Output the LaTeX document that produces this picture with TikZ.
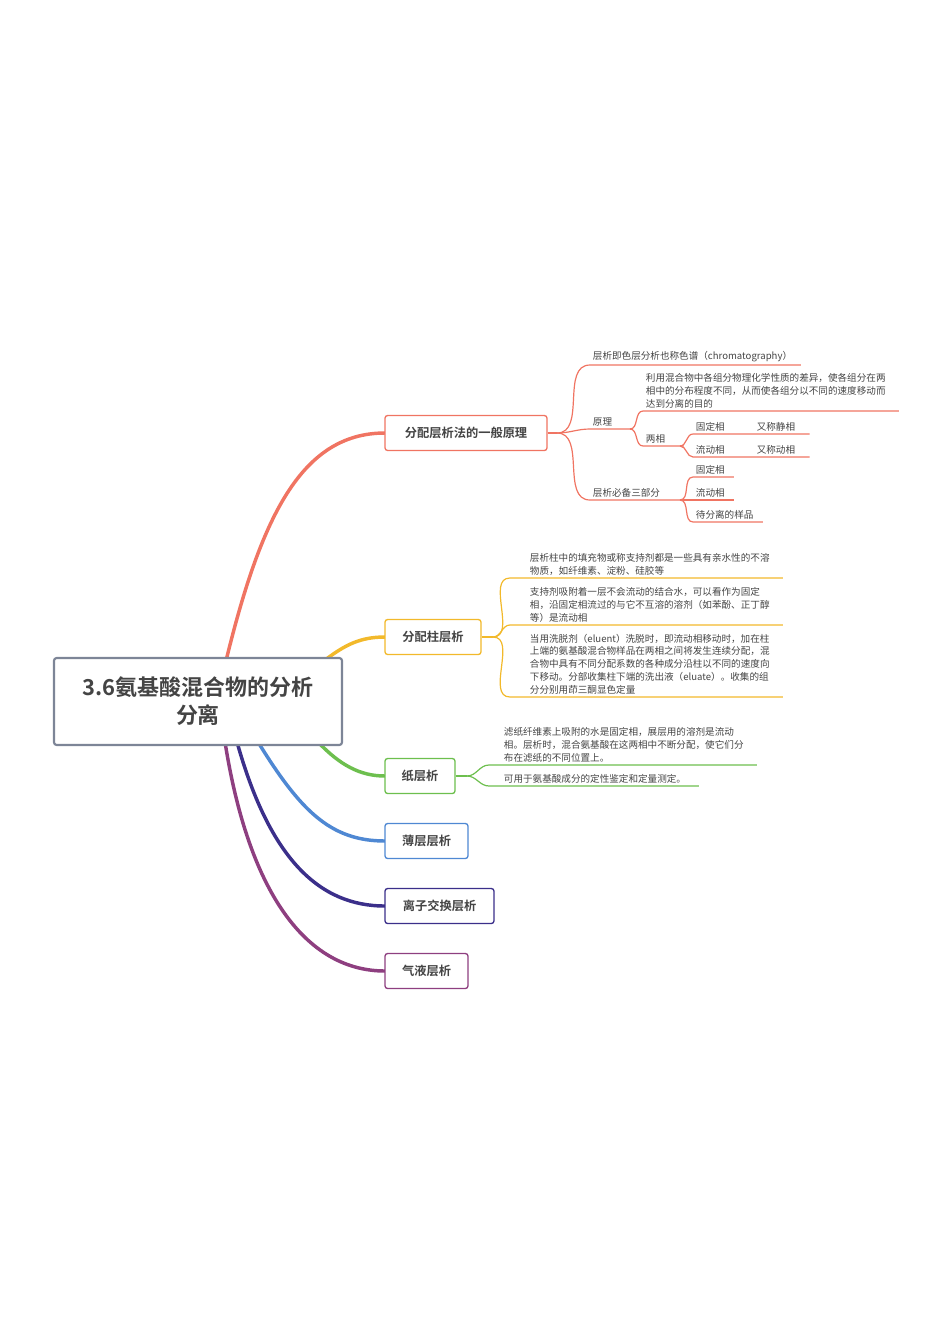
\documentclass[tikz,border=0pt]{standalone}
\usepackage{fontspec}
\usetikzlibrary{calc}
\setmainfont{Noto Sans CJK SC}[BoldFont={Noto Sans CJK SC Bold}]
\definecolor{cred}{HTML}{F07462}
\definecolor{cyel}{HTML}{F2B92B}
\definecolor{cgrn}{HTML}{6DBF4E}
\definecolor{cblu}{HTML}{4F88D3}
\definecolor{cnav}{HTML}{3B2F8A}
\definecolor{cpur}{HTML}{8E3F80}
\definecolor{cgry}{HTML}{7D8597}
\definecolor{ctxt}{HTML}{444444}
\tikzset{
  rootbox/.style={draw=cgry, line width=1.6pt, rounded corners=2pt, minimum width=288*0.0264cm, minimum height=87*0.0264cm, align=center, font=\fontsize{16.5}{21}\selectfont\bfseries, text=ctxt},
  topic/.style={draw=#1, line width=1pt, rounded corners=2pt, minimum height=35*0.0264cm, inner xsep=5pt, font=\fontsize{9.2}{11}\selectfont\bfseries, text=ctxt},
  leaf/.style={anchor=south west, inner xsep=2pt, inner ysep=2pt, align=left, font=\fontsize{7.2}{9.6}\selectfont, text=ctxt},
  twig/.style={draw=#1, line width=0.9pt},
  limb/.style={draw=#1, line width=2.6pt, line cap=round},
}
\begin{document}
\begin{tikzpicture}[x=0.0264cm,y=-0.0264cm]
\useasboundingbox (0,0) rectangle (950,1343);
% main limbs
\draw[limb=cred] (225,665) .. controls (260,520) and (300,433) .. (385,433);
\draw[limb=cyel] (325,660) .. controls (345,645) and (360,637) .. (385,637);
\draw[limb=cgrn] (318,742) .. controls (340,765) and (360,776) .. (385,776);
\draw[limb=cblu] (258,742) .. controls (300,810) and (330,841) .. (385,841);
\draw[limb=cnav] (237,742) .. controls (270,860) and (320,906) .. (385,906);
\draw[limb=cpur] (225,742) .. controls (250,900) and (310,971) .. (385,971);
\node[rootbox, fill=white] (root) at (198,701.5) {3.6氨基酸混合物的分析\\分离};
\node[topic=cred, fill=white, minimum width=162*0.0264cm] (t1) at (466,433) {分配层析法的一般原理};
\node[topic=cyel, fill=white, minimum width=96*0.0264cm] (t2) at (433,637) {分配柱层析};
\node[topic=cgrn, fill=white, minimum width=70*0.0264cm] (t3) at (420,776) {纸层析};
\node[topic=cblu, fill=white, minimum width=83*0.0264cm] (t4) at (426.5,841) {薄层层析};
\node[topic=cnav, fill=white, minimum width=109*0.0264cm] (t5) at (439.5,906) {离子交换层析};
\node[topic=cpur, fill=white, minimum width=83*0.0264cm] (t6) at (426.5,971) {气液层析};
% red branch
\coordinate (r0) at (557,433);
\draw[twig=cred] (t1.east) -- (r0);
\node[leaf, text width=205*0.0264cm] (a1) at (590,365) {层析即色层分析也称色谱（chromatography）};
\node[leaf, text width=35*0.0264cm] (a2) at (590,429) {原理};
\node[leaf, text width=85*0.0264cm] (a3) at (590,500) {层析必备三部分};
\foreach \n in {a1,a2,a3}
  \draw[twig=cred] (r0) to[out=0,in=180] (\n.south west) -- (\n.south east);
\coordinate (r1) at (630,429);
\node[leaf, text width=250*0.0264cm] (b1) at (643,411) {利用混合物中各组分物理化学性质的差异，使各组分在两\\相中的分布程度不同，从而使各组分以不同的速度移动而\\达到分离的目的};
\node[leaf, text width=35*0.0264cm] (b2) at (643,446) {两相};
\foreach \n in {b1,b2}
  \draw[twig=cred] (r1) to[out=0,in=180] (\n.south west) -- (\n.south east);
\coordinate (r2) at (680,446);
\node[leaf, text width=55*0.0264cm] (c1) at (693,434) {固定相};
\node[leaf, text width=50*0.0264cm] (c1b) at (c1.south east) {又称静相};
\node[leaf, text width=55*0.0264cm] (c2) at (693,457) {流动相};
\node[leaf, text width=50*0.0264cm] (c2b) at (c2.south east) {又称动相};
\foreach \n/\m in {c1/c1b,c2/c2b}
  \draw[twig=cred] (r2) to[out=0,in=180] (\n.south west) -- (\m.south east);
\coordinate (r3) at (680,500);
\node[leaf, text width=35*0.0264cm] (d1) at (693,477) {固定相};
\node[leaf, text width=35*0.0264cm] (d2) at (693,500) {流动相};
\node[leaf, text width=64*0.0264cm] (d3) at (693,522) {待分离的样品};
\foreach \n in {d1,d2,d3}
  \draw[twig=cred] (r3) to[out=0,in=180] (\n.south west) -- (\n.south east);
% yellow branch
\coordinate (y0) at (493,637);
\draw[twig=cyel] (t2.east) -- (y0);
\node[leaf, text width=250*0.0264cm] (e1) at (527,578) {层析柱中的填充物或称支持剂都是一些具有亲水性的不溶\\物质，如纤维素、淀粉、硅胶等};
\node[leaf, text width=250*0.0264cm] (e2) at (527,625) {支持剂吸附着一层不会流动的结合水，可以看作为固定\\相，沿固定相流过的与它不互溶的溶剂（如苯酚、正丁醇\\等）是流动相};
\node[leaf, text width=250*0.0264cm] (e3) at (527,697) {当用洗脱剂（eluent）洗脱时，即流动相移动时，加在柱\\上端的氨基酸混合物样品在两相之间将发生连续分配，混\\合物中具有不同分配系数的各种成分沿柱以不同的速度向\\下移动。分部收集柱下端的洗出液（eluate）。收集的组\\分分别用茚三酮显色定量};
\foreach \n in {e1,e2,e3}
  \draw[twig=cyel] (y0) to[out=0,in=180] ($(\n.south west)+(-17,0)$) -- (\n.south east);
% green branch
\coordinate (g0) at (467,776);
\draw[twig=cgrn] (t3.east) -- (g0);
\node[leaf, text width=250*0.0264cm] (f1) at (501,765) {滤纸纤维素上吸附的水是固定相，展层用的溶剂是流动\\相。层析时，混合氨基酸在这两相中不断分配，使它们分\\布在滤纸的不同位置上。};
\node[leaf, text width=192*0.0264cm] (f2) at (501,786) {可用于氨基酸成分的定性鉴定和定量测定。};
\foreach \n in {f1,f2}
  \draw[twig=cgrn] (g0) to[out=0,in=180] ($(\n.south west)+(-12,0)$) -- (\n.south east);
\end{tikzpicture}
\end{document}
